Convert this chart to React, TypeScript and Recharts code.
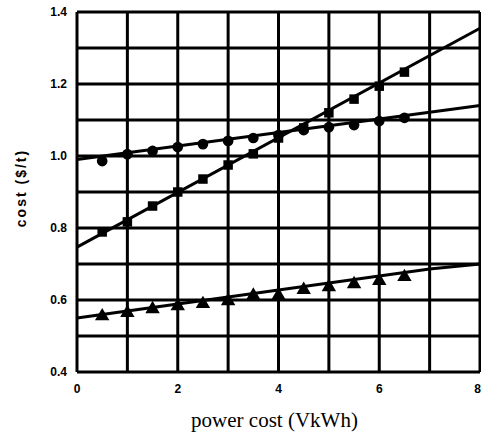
import {
  CartesianGrid,
  ComposedChart,
  Line,
  Scatter,
  XAxis,
  YAxis,
  ZAxis,
} from 'recharts'

// tick positions (grid) and the labelled subset
const xTicks = [0, 1, 2, 3, 4, 5, 6, 7, 8]
const xLabels = [0, 2, 4, 6, 8]
const yTicks = [0.4, 0.5, 0.6, 0.7, 0.8, 0.9, 1.0, 1.1, 1.2, 1.3, 1.4]
const yLabels = ['0.4', '0.6', '0.8', '1.0', '1.2', '1.4']

// fitted lines
const circleLine = [
  { x: 0, y: 0.99 },
  { x: 8, y: 1.14 },
]
const squareLine = [
  { x: 0, y: 0.747 },
  { x: 8, y: 1.355 },
]
const triangleLine = [
  { x: 0, y: 0.55 },
  { x: 7, y: 0.686 },
  { x: 8, y: 0.7 },
]

// measured points
const circlePoints = [
  { x: 0.5, y: 0.986 },
  { x: 1, y: 1.005 },
  { x: 1.5, y: 1.014 },
  { x: 2, y: 1.025 },
  { x: 2.5, y: 1.033 },
  { x: 3, y: 1.042 },
  { x: 3.5, y: 1.05 },
  { x: 4, y: 1.058 },
  { x: 4.5, y: 1.072 },
  { x: 5, y: 1.08 },
  { x: 5.5, y: 1.086 },
  { x: 6, y: 1.097 },
  { x: 6.5, y: 1.106 },
]
const squarePoints = [
  { x: 0.5, y: 0.789 },
  { x: 1, y: 0.817 },
  { x: 1.5, y: 0.861 },
  { x: 2, y: 0.9 },
  { x: 2.5, y: 0.936 },
  { x: 3, y: 0.975 },
  { x: 3.5, y: 1.006 },
  { x: 4, y: 1.05 },
  { x: 4.5, y: 1.078 },
  { x: 5, y: 1.12 },
  { x: 5.5, y: 1.158 },
  { x: 6, y: 1.194 },
  { x: 6.5, y: 1.233 },
]
const trianglePoints = [
  { x: 0.5, y: 0.555 },
  { x: 1, y: 0.564 },
  { x: 1.5, y: 0.575 },
  { x: 2, y: 0.583 },
  { x: 2.5, y: 0.589 },
  { x: 3, y: 0.597 },
  { x: 3.5, y: 0.612 },
  { x: 4, y: 0.612 },
  { x: 4.5, y: 0.628 },
  { x: 5, y: 0.636 },
  { x: 5.5, y: 0.644 },
  { x: 6, y: 0.653 },
  { x: 6.5, y: 0.664 },
]

const SANS = '"Liberation Sans", Arial, sans-serif'

const TICK_STYLE = {
  fill: '#000',
  fontFamily: SANS,
  fontWeight: 700,
  fontSize: 12,
}

// x tick: last label is pushed in so it stays on the page
function XTick({ x, y, payload }: any) {
  const v = payload.value
  if (!xLabels.includes(v)) return null
  const last = v === xTicks[xTicks.length - 1]
  return (
    <text
      x={last ? 481 : x}
      y={y + 13}
      textAnchor={last ? 'end' : 'middle'}
      fontFamily={SANS}
      fontWeight={700}
      fontSize={12}
      fill="#000"
    >
      {v}
    </text>
  )
}

function YTitle({ viewBox }: any) {
  const x = viewBox.x + 21
  const y = viewBox.y + viewBox.height / 2 - 4
  return (
    <text
      x={x}
      y={y}
      transform={`rotate(-90 ${x} ${y})`}
      textAnchor="middle"
      dominantBaseline="central"
      fontFamily={SANS}
      fontWeight={700}
      fontSize={14}
      letterSpacing={2}
      fill="#000"
    >
      cost ($/t)
    </text>
  )
}

function XTitle({ viewBox }: any) {
  return (
    <text
      x={viewBox.x + viewBox.width / 2 - 4}
      y={viewBox.y + 55}
      textAnchor="middle"
      fontFamily='"Liberation Serif", "Times New Roman", serif'
      fontSize={21}
      fill="#000"
    >
      power cost (VkWh)
    </text>
  )
}

export default function App() {
  return (
    <div style={{ position: 'absolute', left: 0, top: 0, background: '#fff' }}>
      <ComposedChart
        width={481}
        height={432}
        margin={{ top: 12, right: 1, left: 0, bottom: 30 }}
      >
        <CartesianGrid stroke="#000" strokeWidth={3} />
        <XAxis
          type="number"
          dataKey="x"
          domain={[0, 8]}
          ticks={xTicks}
          interval={0}
          tick={<XTick />}
          tickLine={false}
          axisLine={false}
          height={30}
          label={<XTitle />}
        />
        <YAxis
          type="number"
          dataKey="y"
          domain={[0.4, 1.4]}
          ticks={yTicks}
          interval={0}
          tick={TICK_STYLE}
          tickLine={false}
          axisLine={false}
          width={77}
          tickMargin={4}
          tickFormatter={(v: number) =>
            yLabels.includes(v.toFixed(1)) ? v.toFixed(1) : ''
          }
          label={<YTitle />}
        />
        <ZAxis range={[90, 90]} />
        <Line
          data={circleLine}
          dataKey="y"
          stroke="#000"
          strokeWidth={3}
          dot={false}
          isAnimationActive={false}
        />
        <Line
          data={squareLine}
          dataKey="y"
          stroke="#000"
          strokeWidth={3}
          dot={false}
          isAnimationActive={false}
        />
        <Line
          data={triangleLine}
          dataKey="y"
          stroke="#000"
          strokeWidth={3}
          dot={false}
          isAnimationActive={false}
        />
        <Scatter data={circlePoints} dataKey="y" shape="circle" fill="#000" isAnimationActive={false} />
        <Scatter data={squarePoints} dataKey="y" shape="square" fill="#000" isAnimationActive={false} />
        <Scatter data={trianglePoints} dataKey="y" shape="triangle" fill="#000" isAnimationActive={false} />
      </ComposedChart>
    </div>
  )
}
